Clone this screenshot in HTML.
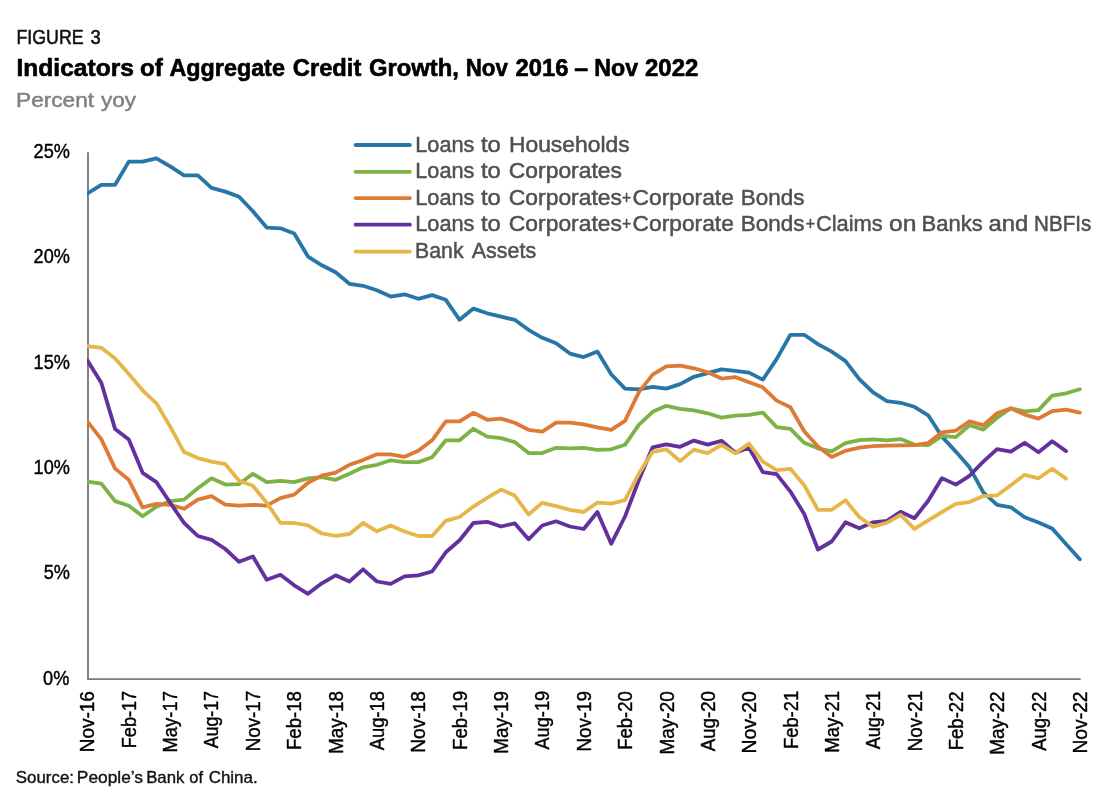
<!DOCTYPE html>
<html lang="en"><head><meta charset="utf-8"><title>Figure 3 - Indicators of Aggregate Credit Growth</title>
<style>
html,body{margin:0;padding:0;background:#fff;}
body{width:1120px;height:800px;overflow:hidden;font-family:"Liberation Sans",sans-serif;}
svg{display:block;}
svg text{font-family:"Liberation Sans",sans-serif;}
.ax{font-size:17px;fill:#000;}
</style></head><body>
<svg width="1120" height="800" viewBox="0 0 1120 800">
<rect width="1120" height="800" fill="#fff"/>
<defs><clipPath id="plot"><rect x="86.9" y="100" width="1010" height="600"/></clipPath></defs>

<text y="44.25" font-size="19.5" fill="#111" stroke="#111" stroke-width="0.55" stroke-linejoin="round"><tspan x="16.48" textLength="67.18" lengthAdjust="spacingAndGlyphs">FIGURE</tspan> <tspan x="90.45" textLength="10.22" lengthAdjust="spacingAndGlyphs">3</tspan></text>
<text y="76.25" font-size="24.6" fill="#000" font-weight="bold" stroke="#000" stroke-width="0.65" stroke-linejoin="round"><tspan x="16.53" textLength="117.36" lengthAdjust="spacingAndGlyphs">Indicators</tspan> <tspan x="140.03" textLength="22.81" lengthAdjust="spacingAndGlyphs">of</tspan> <tspan x="169.53" textLength="115.33" lengthAdjust="spacingAndGlyphs">Aggregate</tspan> <tspan x="292.80" textLength="68.52" lengthAdjust="spacingAndGlyphs">Credit</tspan> <tspan x="369.05" textLength="89.83" lengthAdjust="spacingAndGlyphs">Growth,</tspan> <tspan x="465.66" textLength="42.26" lengthAdjust="spacingAndGlyphs">Nov</tspan> <tspan x="515.54" textLength="52.82" lengthAdjust="spacingAndGlyphs">2016</tspan> <tspan x="574.25" textLength="13.90" lengthAdjust="spacingAndGlyphs">–</tspan> <tspan x="594.36" textLength="43.80" lengthAdjust="spacingAndGlyphs">Nov</tspan> <tspan x="645.03" textLength="53.34" lengthAdjust="spacingAndGlyphs">2022</tspan></text>
<text y="107.1" font-size="20.7" fill="#808080" stroke="#808080" stroke-width="0.5" stroke-linejoin="round"><tspan x="16.09" textLength="77.96" lengthAdjust="spacingAndGlyphs">Percent</tspan> <tspan x="100.90" textLength="35.10" lengthAdjust="spacingAndGlyphs">yoy</tspan></text>
<text class="ax" style="font-size:19.4px" stroke="#000" stroke-width="0.4" x="33.59" y="157.9" textLength="36.34" lengthAdjust="spacingAndGlyphs">25%</text>
<text class="ax" style="font-size:19.4px" stroke="#000" stroke-width="0.4" x="33.59" y="263.3" textLength="36.34" lengthAdjust="spacingAndGlyphs">20%</text>
<text class="ax" style="font-size:19.4px" stroke="#000" stroke-width="0.4" x="33.59" y="368.6" textLength="36.34" lengthAdjust="spacingAndGlyphs">15%</text>
<text class="ax" style="font-size:19.4px" stroke="#000" stroke-width="0.4" x="33.59" y="474.0" textLength="36.34" lengthAdjust="spacingAndGlyphs">10%</text>
<text class="ax" style="font-size:19.4px" stroke="#000" stroke-width="0.4" x="43.68" y="579.3" textLength="26.24" lengthAdjust="spacingAndGlyphs">5%</text>
<text class="ax" style="font-size:19.4px" stroke="#000" stroke-width="0.4" x="43.08" y="684.7" textLength="26.24" lengthAdjust="spacingAndGlyphs">0%</text>
<text class="ax" style="font-size:19.6px" stroke="#000" stroke-width="0.4" transform="translate(94.3,752.3) rotate(-90)" textLength="61.2" lengthAdjust="spacingAndGlyphs">Nov-16</text>
<text class="ax" style="font-size:19.6px" stroke="#000" stroke-width="0.4" transform="translate(135.7,748.2) rotate(-90)" textLength="57.3" lengthAdjust="spacingAndGlyphs">Feb-17</text>
<text class="ax" style="font-size:19.6px" stroke="#000" stroke-width="0.4" transform="translate(177.0,752.6) rotate(-90)" textLength="61.6" lengthAdjust="spacingAndGlyphs">May-17</text>
<text class="ax" style="font-size:19.6px" stroke="#000" stroke-width="0.4" transform="translate(218.4,748.3) rotate(-90)" textLength="57.3" lengthAdjust="spacingAndGlyphs">Aug-17</text>
<text class="ax" style="font-size:19.6px" stroke="#000" stroke-width="0.4" transform="translate(259.8,751.3) rotate(-90)" textLength="60.4" lengthAdjust="spacingAndGlyphs">Nov-17</text>
<text class="ax" style="font-size:19.6px" stroke="#000" stroke-width="0.4" transform="translate(301.2,750.0) rotate(-90)" textLength="58.9" lengthAdjust="spacingAndGlyphs">Feb-18</text>
<text class="ax" style="font-size:19.6px" stroke="#000" stroke-width="0.4" transform="translate(342.5,753.8) rotate(-90)" textLength="62.7" lengthAdjust="spacingAndGlyphs">May-18</text>
<text class="ax" style="font-size:19.6px" stroke="#000" stroke-width="0.4" transform="translate(383.9,750.3) rotate(-90)" textLength="59.2" lengthAdjust="spacingAndGlyphs">Aug-18</text>
<text class="ax" style="font-size:19.6px" stroke="#000" stroke-width="0.4" transform="translate(425.3,752.8) rotate(-90)" textLength="61.7" lengthAdjust="spacingAndGlyphs">Nov-18</text>
<text class="ax" style="font-size:19.6px" stroke="#000" stroke-width="0.4" transform="translate(466.6,750.0) rotate(-90)" textLength="59.1" lengthAdjust="spacingAndGlyphs">Feb-19</text>
<text class="ax" style="font-size:19.6px" stroke="#000" stroke-width="0.4" transform="translate(508.0,753.8) rotate(-90)" textLength="62.9" lengthAdjust="spacingAndGlyphs">May-19</text>
<text class="ax" style="font-size:19.6px" stroke="#000" stroke-width="0.4" transform="translate(549.4,749.5) rotate(-90)" textLength="58.6" lengthAdjust="spacingAndGlyphs">Aug-19</text>
<text class="ax" style="font-size:19.6px" stroke="#000" stroke-width="0.4" transform="translate(590.7,751.6) rotate(-90)" textLength="60.6" lengthAdjust="spacingAndGlyphs">Nov-19</text>
<text class="ax" style="font-size:19.6px" stroke="#000" stroke-width="0.4" transform="translate(632.1,749.8) rotate(-90)" textLength="58.7" lengthAdjust="spacingAndGlyphs">Feb-20</text>
<text class="ax" style="font-size:19.6px" stroke="#000" stroke-width="0.4" transform="translate(673.5,754.6) rotate(-90)" textLength="63.5" lengthAdjust="spacingAndGlyphs">May-20</text>
<text class="ax" style="font-size:19.6px" stroke="#000" stroke-width="0.4" transform="translate(714.8,751.3) rotate(-90)" textLength="60.2" lengthAdjust="spacingAndGlyphs">Aug-20</text>
<text class="ax" style="font-size:19.6px" stroke="#000" stroke-width="0.4" transform="translate(756.2,753.6) rotate(-90)" textLength="62.5" lengthAdjust="spacingAndGlyphs">Nov-20</text>
<text class="ax" style="font-size:19.6px" stroke="#000" stroke-width="0.4" transform="translate(797.6,749.0) rotate(-90)" textLength="58.1" lengthAdjust="spacingAndGlyphs">Feb-21</text>
<text class="ax" style="font-size:19.6px" stroke="#000" stroke-width="0.4" transform="translate(839.0,752.8) rotate(-90)" textLength="61.8" lengthAdjust="spacingAndGlyphs">May-21</text>
<text class="ax" style="font-size:19.6px" stroke="#000" stroke-width="0.4" transform="translate(880.3,749.3) rotate(-90)" textLength="58.3" lengthAdjust="spacingAndGlyphs">Aug-21</text>
<text class="ax" style="font-size:19.6px" stroke="#000" stroke-width="0.4" transform="translate(921.7,751.3) rotate(-90)" textLength="60.4" lengthAdjust="spacingAndGlyphs">Nov-21</text>
<text class="ax" style="font-size:19.6px" stroke="#000" stroke-width="0.4" transform="translate(963.1,750.3) rotate(-90)" textLength="58.8" lengthAdjust="spacingAndGlyphs">Feb-22</text>
<text class="ax" style="font-size:19.6px" stroke="#000" stroke-width="0.4" transform="translate(1004.4,754.8) rotate(-90)" textLength="63.4" lengthAdjust="spacingAndGlyphs">May-22</text>
<text class="ax" style="font-size:19.6px" stroke="#000" stroke-width="0.4" transform="translate(1045.8,750.8) rotate(-90)" textLength="59.3" lengthAdjust="spacingAndGlyphs">Aug-22</text>
<text class="ax" style="font-size:19.6px" stroke="#000" stroke-width="0.4" transform="translate(1087.2,753.6) rotate(-90)" textLength="62.2" lengthAdjust="spacingAndGlyphs">Nov-22</text>
<path d="M88 152.2 V679.1 H1080.7" fill="none" stroke="#7c7c7c" stroke-width="1.9"/>
<g clip-path="url(#plot)">
<polyline points="87.5,193.3 101.3,184.8 115.1,184.8 128.8,161.6 142.6,161.6 156.4,158.3 170.2,166.3 184.0,175.3 197.8,175.3 211.5,187.8 225.3,191.6 239.1,196.8 252.9,211.3 266.7,227.6 280.4,228.3 294.2,233.6 308.0,256.6 321.8,265.3 335.6,272.3 349.4,283.8 363.1,285.8 376.9,290.3 390.7,296.6 404.5,294.3 418.3,298.8 432.1,295.1 445.8,299.8 459.6,319.8 473.4,308.6 487.2,313.3 501.0,316.6 514.7,319.8 528.5,329.8 542.3,337.8 556.1,343.3 569.9,353.6 583.7,357.1 597.4,351.6 611.2,374.3 625.0,388.6 638.8,389.3 652.6,386.8 666.3,388.6 680.1,384.1 693.9,376.8 707.7,373.1 721.5,369.3 735.3,370.8 749.0,372.6 762.8,379.6 776.6,359.1 790.4,334.8 804.2,334.8 817.9,344.1 831.7,351.6 845.5,361.1 859.3,379.1 873.1,392.3 886.9,401.1 900.6,402.8 914.4,406.8 928.2,415.3 942.0,436.6 955.8,451.6 969.5,467.3 983.3,492.3 997.1,504.8 1010.9,507.3 1024.7,517.3 1038.5,522.5 1052.2,528.5 1066.0,544.0 1079.8,559.3" fill="none" stroke="#2876A8" stroke-width="3.8" stroke-linejoin="round" stroke-linecap="round"/>
<polyline points="87.5,481.6 101.3,483.6 115.1,501.1 128.8,505.8 142.6,516.3 156.4,506.8 170.2,501.1 184.0,499.6 197.8,488.3 211.5,478.3 225.3,484.6 239.1,484.1 252.9,473.8 266.7,482.1 280.4,480.8 294.2,482.1 308.0,478.3 321.8,477.1 335.6,479.8 349.4,473.8 363.1,467.3 376.9,464.8 390.7,460.3 404.5,462.1 418.3,462.1 432.1,457.3 445.8,440.3 459.6,440.3 473.4,428.8 487.2,436.6 501.0,438.1 514.7,442.1 528.5,453.1 542.3,453.1 556.1,447.8 569.9,448.3 583.7,447.8 597.4,449.8 611.2,449.3 625.0,444.8 638.8,424.8 652.6,411.8 666.3,405.8 680.1,408.8 693.9,410.3 707.7,413.3 721.5,417.6 735.3,415.6 749.0,414.8 762.8,412.6 776.6,427.1 790.4,428.8 804.2,442.8 817.9,448.3 831.7,451.3 845.5,443.1 859.3,440.1 873.1,439.3 886.9,440.3 900.6,439.1 914.4,444.6 928.2,445.1 942.0,435.8 955.8,437.1 969.5,425.3 983.3,429.6 997.1,417.8 1010.9,408.3 1024.7,411.3 1038.5,410.1 1052.2,395.6 1066.0,393.3 1079.8,389.3" fill="none" stroke="#7DB245" stroke-width="3.8" stroke-linejoin="round" stroke-linecap="round"/>
<polyline points="87.5,421.6 101.3,439.1 115.1,468.6 128.8,479.8 142.6,507.3 156.4,503.8 170.2,504.8 184.0,508.8 197.8,499.6 211.5,496.1 225.3,504.6 239.1,505.6 252.9,504.8 266.7,505.6 280.4,498.1 294.2,494.6 308.0,482.8 321.8,475.6 335.6,472.6 349.4,464.8 363.1,460.1 376.9,454.3 390.7,454.3 404.5,456.8 418.3,450.8 432.1,440.3 445.8,421.3 459.6,421.3 473.4,412.8 487.2,419.8 501.0,418.6 514.7,422.8 528.5,429.8 542.3,431.6 556.1,422.6 569.9,422.6 583.7,424.3 597.4,427.3 611.2,429.8 625.0,420.8 638.8,392.3 652.6,374.6 666.3,366.3 680.1,365.6 693.9,368.3 707.7,372.3 721.5,378.6 735.3,377.1 749.0,382.3 762.8,387.3 776.6,400.6 790.4,407.3 804.2,431.3 817.9,446.6 831.7,457.1 845.5,450.8 859.3,447.6 873.1,446.1 886.9,445.6 900.6,445.3 914.4,445.1 928.2,443.1 942.0,432.3 955.8,430.6 969.5,421.3 983.3,425.1 997.1,413.3 1010.9,408.3 1024.7,414.6 1038.5,418.6 1052.2,411.1 1066.0,409.6 1079.8,412.6" fill="none" stroke="#DE7A36" stroke-width="3.8" stroke-linejoin="round" stroke-linecap="round"/>
<polyline points="87.5,360.6 101.3,382.8 115.1,429.1 128.8,439.6 142.6,472.8 156.4,482.1 170.2,502.8 184.0,522.8 197.8,536.0 211.5,539.8 225.3,549.0 239.1,561.8 252.9,556.5 266.7,579.8 280.4,574.8 294.2,585.3 308.0,593.8 321.8,583.3 335.6,575.3 349.4,581.5 363.1,569.3 376.9,581.5 390.7,583.8 404.5,576.3 418.3,575.3 432.1,571.5 445.8,552.3 459.6,540.3 473.4,523.0 487.2,521.8 501.0,526.5 514.7,523.3 528.5,539.3 542.3,525.5 556.1,521.3 569.9,526.5 583.7,529.0 597.4,512.0 611.2,543.8 625.0,516.5 638.8,480.3 652.6,447.3 666.3,444.3 680.1,446.8 693.9,440.6 707.7,444.6 721.5,440.8 735.3,452.8 749.0,447.8 762.8,472.1 776.6,474.1 790.4,491.6 804.2,514.0 817.9,549.5 831.7,541.5 845.5,522.3 859.3,528.3 873.1,522.3 886.9,520.8 900.6,511.8 914.4,518.3 928.2,500.8 942.0,478.1 955.8,484.6 969.5,475.8 983.3,461.6 997.1,449.1 1010.9,451.6 1024.7,442.8 1038.5,452.3 1052.2,441.3 1066.0,451.1" fill="none" stroke="#63319E" stroke-width="3.8" stroke-linejoin="round" stroke-linecap="round"/>
<polyline points="87.5,346.1 101.3,347.8 115.1,358.6 128.8,374.1 142.6,390.3 156.4,403.3 170.2,426.6 184.0,452.1 197.8,458.1 211.5,461.6 225.3,464.1 239.1,480.8 252.9,485.8 266.7,502.8 280.4,522.8 294.2,523.0 308.0,525.3 321.8,533.5 335.6,535.8 349.4,534.0 363.1,523.0 376.9,531.3 390.7,525.5 404.5,531.5 418.3,536.0 432.1,536.0 445.8,520.8 459.6,517.0 473.4,506.6 487.2,497.8 501.0,489.6 514.7,495.6 528.5,514.5 542.3,502.8 556.1,506.1 569.9,509.8 583.7,512.0 597.4,502.6 611.2,503.6 625.0,500.1 638.8,473.8 652.6,451.8 666.3,449.3 680.1,461.1 693.9,449.6 707.7,453.1 721.5,444.8 735.3,453.3 749.0,443.6 762.8,461.6 776.6,470.1 790.4,468.8 804.2,485.3 817.9,509.8 831.7,509.8 845.5,500.3 859.3,517.0 873.1,526.8 886.9,522.8 900.6,514.8 914.4,528.8 928.2,520.3 942.0,512.0 955.8,503.8 969.5,502.1 983.3,496.1 997.1,495.3 1010.9,485.3 1024.7,474.8 1038.5,478.3 1052.2,468.8 1066.0,478.6" fill="none" stroke="#E5B748" stroke-width="3.8" stroke-linejoin="round" stroke-linecap="round"/>
</g>
<line x1="355.6" x2="409.9" y1="145.0" y2="145.0" stroke="#2876A8" stroke-width="3.8" stroke-linecap="round"/>
<line x1="355.6" x2="409.9" y1="171.8" y2="171.8" stroke="#7DB245" stroke-width="3.8" stroke-linecap="round"/>
<line x1="355.6" x2="409.9" y1="198.1" y2="198.1" stroke="#DE7A36" stroke-width="3.8" stroke-linecap="round"/>
<line x1="355.6" x2="409.9" y1="224.7" y2="224.7" stroke="#63319E" stroke-width="3.8" stroke-linecap="round"/>
<line x1="355.6" x2="409.9" y1="251.6" y2="251.6" stroke="#E5B748" stroke-width="3.8" stroke-linecap="round"/>
<text y="151.75" font-size="22" fill="#505050" stroke="#505050" stroke-width="0.5" stroke-linejoin="round"><tspan x="415.26" textLength="59.14" lengthAdjust="spacingAndGlyphs">Loans</tspan> <tspan x="481.01" textLength="19.85" lengthAdjust="spacingAndGlyphs">to</tspan> <tspan x="508.92" textLength="120.77" lengthAdjust="spacingAndGlyphs">Households</tspan></text>
<text y="178.3" font-size="22" fill="#505050" stroke="#505050" stroke-width="0.5" stroke-linejoin="round"><tspan x="415.26" textLength="59.14" lengthAdjust="spacingAndGlyphs">Loans</tspan> <tspan x="481.01" textLength="19.85" lengthAdjust="spacingAndGlyphs">to</tspan> <tspan x="508.86" textLength="113.08" lengthAdjust="spacingAndGlyphs">Corporates</tspan></text>
<text y="204.9" font-size="22" fill="#505050" stroke="#505050" stroke-width="0.5" stroke-linejoin="round"><tspan x="415.26" textLength="59.14" lengthAdjust="spacingAndGlyphs">Loans</tspan> <tspan x="481.01" textLength="19.85" lengthAdjust="spacingAndGlyphs">to</tspan> <tspan x="508.86" textLength="113.08" lengthAdjust="spacingAndGlyphs">Corporates</tspan><tspan x="621.98" font-size="18.5" dy="-1.3" textLength="9.11" lengthAdjust="spacingAndGlyphs">+</tspan><tspan x="632.61" dy="1.3" textLength="101.21" lengthAdjust="spacingAndGlyphs">Corporate</tspan> <tspan x="740.70" textLength="63.72" lengthAdjust="spacingAndGlyphs">Bonds</tspan></text>
<text y="231.4" font-size="22" fill="#505050" stroke="#505050" stroke-width="0.5" stroke-linejoin="round"><tspan x="415.26" textLength="59.14" lengthAdjust="spacingAndGlyphs">Loans</tspan> <tspan x="481.01" textLength="19.85" lengthAdjust="spacingAndGlyphs">to</tspan> <tspan x="508.86" textLength="113.08" lengthAdjust="spacingAndGlyphs">Corporates</tspan><tspan x="621.98" font-size="18.5" dy="-1.3" textLength="9.11" lengthAdjust="spacingAndGlyphs">+</tspan><tspan x="632.61" dy="1.3" textLength="101.21" lengthAdjust="spacingAndGlyphs">Corporate</tspan> <tspan x="740.70" textLength="63.72" lengthAdjust="spacingAndGlyphs">Bonds</tspan><tspan x="805.66" font-size="18.5" dy="-1.3" textLength="9.34" lengthAdjust="spacingAndGlyphs">+</tspan><tspan x="815.91" dy="1.3" textLength="66.75" lengthAdjust="spacingAndGlyphs">Claims</tspan> <tspan x="889.02" textLength="27.37" lengthAdjust="spacingAndGlyphs">on</tspan> <tspan x="921.49" textLength="61.17" lengthAdjust="spacingAndGlyphs">Banks</tspan> <tspan x="988.55" textLength="39.79" lengthAdjust="spacingAndGlyphs">and</tspan> <tspan x="1034.10" textLength="57.27" lengthAdjust="spacingAndGlyphs">NBFIs</tspan></text>
<text y="258.0" font-size="22" fill="#505050" stroke="#505050" stroke-width="0.5" stroke-linejoin="round"><tspan x="415.05" textLength="48.49" lengthAdjust="spacingAndGlyphs">Bank</tspan> <tspan x="471.75" textLength="64.39" lengthAdjust="spacingAndGlyphs">Assets</tspan></text>
<text y="783.1" font-size="15.9" fill="#111" stroke="#111" stroke-width="0.35" stroke-linejoin="round"><tspan x="15.82" textLength="58.16" lengthAdjust="spacingAndGlyphs">Source:</tspan> <tspan x="76.86" textLength="66.16" lengthAdjust="spacingAndGlyphs">People’s</tspan> <tspan x="146.16" textLength="38.17" lengthAdjust="spacingAndGlyphs">Bank</tspan> <tspan x="189.35" textLength="13.62" lengthAdjust="spacingAndGlyphs">of</tspan> <tspan x="208.65" textLength="49.09" lengthAdjust="spacingAndGlyphs">China.</tspan></text>
</svg></body></html>
